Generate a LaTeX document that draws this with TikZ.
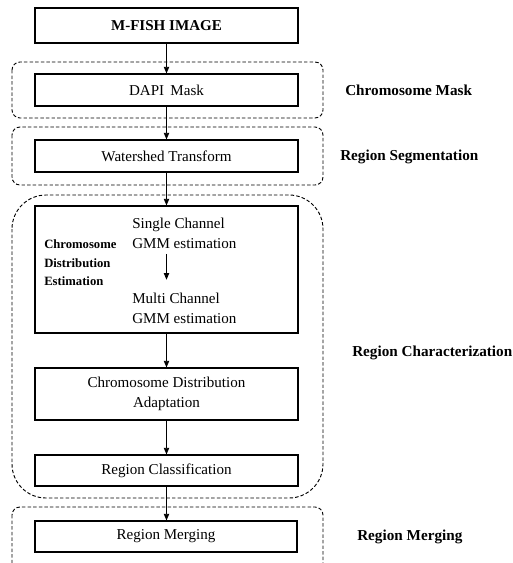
\documentclass[tikz,border=0pt]{standalone}
\usepackage{fontspec}
\setmainfont{Liberation Serif}
\usetikzlibrary{arrows.meta}
\begin{document}
\begin{tikzpicture}[x=0.75pt,y=-0.75pt,
  stagebox/.style={draw,line width=0.8pt,minimum width=263*0.75pt,inner sep=0pt,
    font=\fontsize{11.3}{15}\selectfont,align=center},
  grp/.style={draw,line width=0.7pt,dash pattern=on 2.6pt off 1.6pt},
  lbl/.style={anchor=west,font=\bfseries\fontsize{11.4}{14}\selectfont,inner sep=0pt},
  arr/.style={line width=0.7pt,-{Triangle[length=5pt,width=4pt]}},
  txt/.style={font=\fontsize{11.3}{15}\selectfont,align=left,inner sep=0pt,anchor=west}]
\useasboundingbox (0,0) rectangle (512,563);
\clip (0,0) rectangle (512,563);
% dashed groups
\draw[grp,rounded corners=8*0.75pt] (12,62) rectangle (323,118);
\draw[grp,rounded corners=8*0.75pt] (12,127) rectangle (323,185);
\draw[grp,rounded corners=34*0.75pt] (12,195) rectangle (323,498);
\draw[grp,rounded corners=8*0.75pt] (12,507) rectangle (323,590);
% boxes
\node[stagebox,minimum height=35*0.75pt,font=\bfseries\fontsize{11.3}{15}\selectfont] (mfish) at (166.5,25.5) {M-FISH IMAGE};
\node[stagebox,minimum height=32*0.75pt] (dapi) at (166.5,90) {DAPI\, Mask};
\node[stagebox,minimum height=32*0.75pt] (ws) at (166.5,156) {Watershed Transform};
\node[stagebox,minimum height=127*0.75pt] (gmm) at (166.5,269.5) {};
\node[stagebox,minimum height=52*0.75pt] (cda) at (166.5,394) {Chromosome Distribution\\Adaptation};
\node[stagebox,minimum height=31*0.75pt] (rc) at (166.5,470.5) {Region Classification};
\node[stagebox,minimum height=31*0.75pt,minimum width=262*0.75pt] (rm) at (166,536.5) {Region Merging};
% inside gmm box
\node[txt,inner ysep=4pt] (sc) at (132,233) {Single Channel\\GMM estimation};
\node[txt,inner ysep=9.5pt] (mc) at (132,308) {Multi Channel\\GMM estimation};
\node[txt,font=\bfseries\fontsize{9.5}{13.9}\selectfont] (cde) at (44,263) {Chromosome\\Distribution\\Estimation};
% arrows
\draw[arr] (mfish) -- (dapi);
\draw[arr] (dapi) -- (ws);
\draw[arr] (ws) -- (gmm);
\draw[arr] (gmm.center |- sc.south) -- (gmm.center |- mc.north);
\draw[arr] (gmm) -- (cda);
\draw[arr] (cda) -- (rc);
\draw[arr] (rc) -- (rc |- rm.north);
% right labels
\node[lbl] (l1) at (345,90) {Chromosome Mask};
\node[lbl] (l2) at (340,157) {Region Segmentation};
\node[lbl] (l3) at (352,353) {Region Characterization};
\node[lbl] (l4) at (357,537) {Region Merging};
\end{tikzpicture}
\end{document}
